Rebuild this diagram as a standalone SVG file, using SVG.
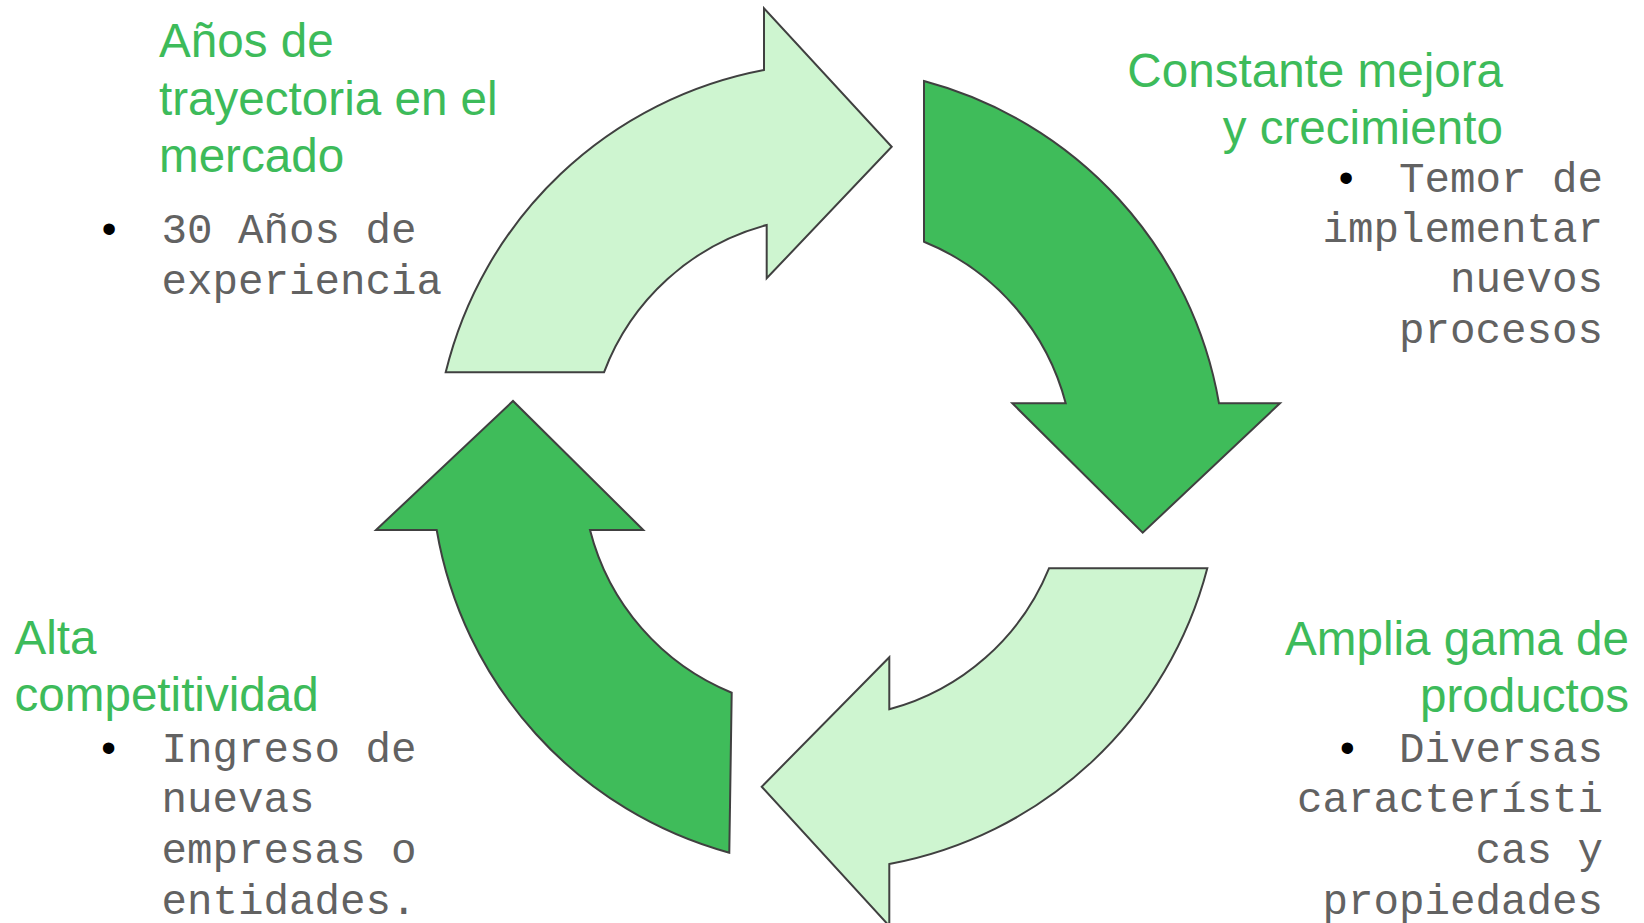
<svg xmlns="http://www.w3.org/2000/svg" width="1644" height="923" viewBox="0 0 1644 923">
<style>
.arr{stroke:#404040;stroke-width:2;stroke-linejoin:miter}
.light{fill:#CEF5D0}
.dark{fill:#3FBC5A}
.title{font-family:"Liberation Sans",Arial,sans-serif;font-size:47.6px;fill:#3DBB5A}
.body{font-family:"Liberation Mono","Courier New",monospace;font-size:42.5px;fill:#626262}
.bul{font-family:"Liberation Sans",Arial,sans-serif;font-size:42px;fill:#000;text-anchor:middle}
.end{text-anchor:end}
</style>
<rect width="1644" height="923" fill="#FFFFFF"/>
<g id="connectors">
<path id="arrow-top-left" class="arr light" d="M445.7,372.3 A405,405 0 0 1 764,70 L764,8.3 L891.7,146.7 L766.7,278.3 L766.7,225 A240,240 0 0 0 604,372.3 Z"/>
<path id="arrow-top-right" class="arr dark" d="M924,81 A405,405 0 0 1 1219,403.3 L1280,403.3 L1142.7,532.7 L1012.3,403.3 L1065.7,403.3 A240,240 0 0 0 924,241.7 Z"/>
<path id="arrow-bottom-right" class="arr light" d="M1207.3,568.3 A405,405 0 0 1 889.3,864 L889.3,926 L761.7,786.7 L889.3,657.3 L889.3,709.3 A240,240 0 0 0 1049,568.3 Z"/>
<path id="arrow-bottom-left" class="arr dark" d="M729.3,852.7 A405,405 0 0 1 436.7,530 L376,530 L513,401 L643.3,530 L590,530 A240,240 0 0 0 731.7,692.7 Z"/>
</g>
<g id="node-top-left">
<text class="title" x="159" y="57">Años de</text>
<text class="title" x="159" y="114.5">trayectoria en el</text>
<text class="title" x="159" y="172">mercado</text>
<text class="bul" x="109" y="243.3">•</text>
<text class="body" x="161.5" y="243.3">30 Años de</text>
<text class="body" x="161.5" y="294">experiencia</text>
</g>
<g id="node-top-right">
<text class="title end" x="1503" y="87">Constante mejora</text>
<text class="title end" x="1503" y="143.5">y crecimiento</text>
<text class="bul" x="1346" y="191.7">•</text>
<text class="body end" x="1603" y="191.7">Temor de</text>
<text class="body end" x="1603" y="241.7">implementar</text>
<text class="body end" x="1603" y="292.3">nuevos</text>
<text class="body end" x="1603" y="343.3">procesos</text>
</g>
<g id="node-bottom-left">
<text class="title" x="14.5" y="654.3">Alta</text>
<text class="title" x="14.5" y="711">competitividad</text>
<text class="bul" x="108.5" y="762.3">•</text>
<text class="body" x="161.5" y="762.3">Ingreso de</text>
<text class="body" x="161.5" y="812.3">nuevas</text>
<text class="body" x="161.5" y="863.3">empresas o</text>
<text class="body" x="161.5" y="914">entidades.</text>
</g>
<g id="node-bottom-right">
<text class="title end" x="1629" y="655">Amplia gama de</text>
<text class="title end" x="1629" y="711.7">productos</text>
<text class="bul" x="1347.3" y="762.3">•</text>
<text class="body end" x="1603" y="762.3">Diversas</text>
<text class="body end" x="1603" y="812.3">característi</text>
<text class="body end" x="1603" y="863.3">cas y</text>
<text class="body end" x="1603" y="914">propiedades</text>
</g>
</svg>
